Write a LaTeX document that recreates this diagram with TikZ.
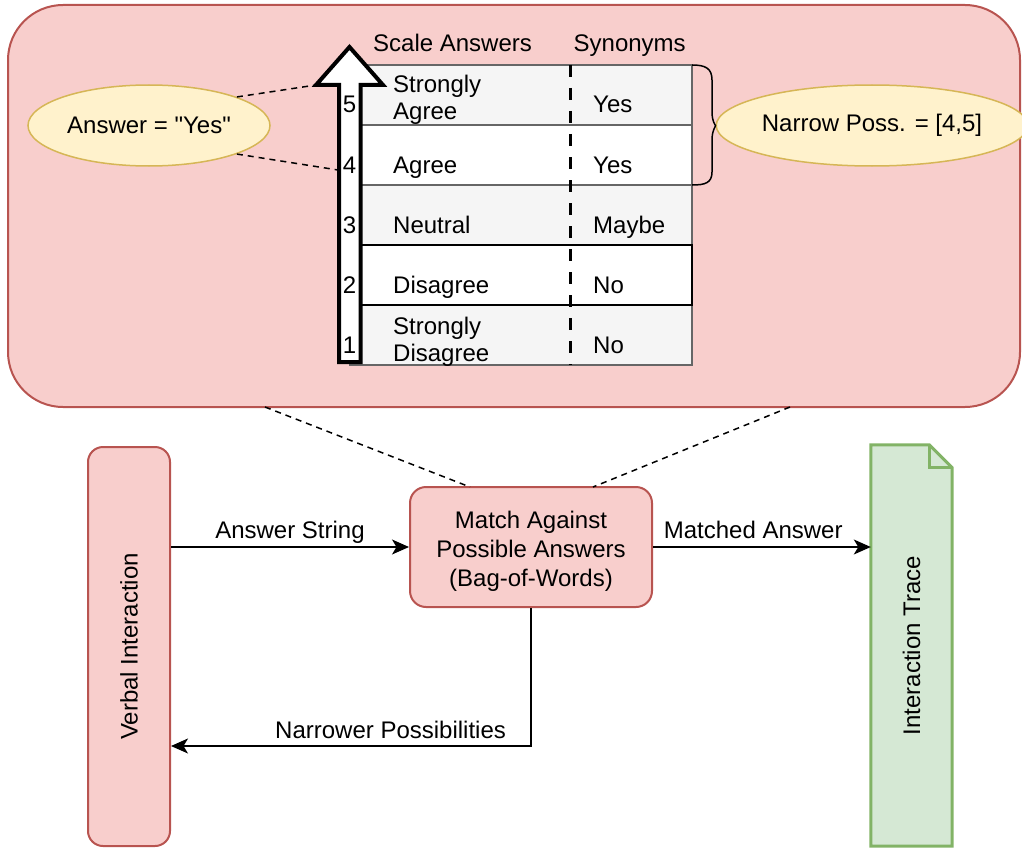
\documentclass[tikz,border=0pt]{standalone}
\usepackage{fontspec}
\usepackage{graphicx}
\setmainfont{Liberation Sans}
% plain family without TeX ligature mapping, so " stays a straight quote
\newfontfamily\diagfont{Liberation Sans}
\usetikzlibrary{arrows.meta,shapes.geometric}

\definecolor{redfill}{HTML}{F8CECC}
\definecolor{redline}{HTML}{B85450}
\definecolor{yelfill}{HTML}{FFF2CC}
\definecolor{yelline}{HTML}{D6B656}
\definecolor{grnfill}{HTML}{D5E8D4}
\definecolor{grnline}{HTML}{82B366}
\definecolor{rowgray}{HTML}{F5F5F5}
\definecolor{rowline}{HTML}{666666}

\begin{document}
\begin{tikzpicture}[x=1pt,y=-1pt,
  every node/.style={font=\diagfont\fontsize{24}{28.8}\selectfont, inner sep=0pt, text=black},
  panel/.style={draw=redline, fill=redfill, line width=2pt, rounded corners=55pt,
    minimum width=1012pt, minimum height=402pt},
  tag/.style={ellipse, draw=yelline, fill=yelfill, line width=1.5pt},
  cellgray/.style={rectangle, draw=rowline, fill=rowgray, line width=1.5pt,
    minimum width=342pt, minimum height=60pt},
  cellwhite/.style={rectangle, draw=rowline, fill=white, line width=1.5pt,
    minimum width=342pt, minimum height=60pt},
  celldark/.style={rectangle, draw=black, fill=white, line width=1.5pt,
    minimum width=342pt, minimum height=60pt},
  celltext/.style={anchor=base west},
  twoline/.style={anchor=west, align=left, font=\diagfont\fontsize{24}{27}\selectfont},
  numtext/.style={anchor=base},
  scalearrow/.style={draw=black, fill=white, line width=4pt, line join=miter},
  sepline/.style={draw=black, line width=3pt, dash pattern=on 12pt off 11pt},
  link/.style={draw=black, line width=1.5pt, dash pattern=on 6pt off 5pt},
  redbox/.style={rectangle, draw=redline, fill=redfill, line width=2pt},
  flow/.style={draw=black, line width=1.5pt, -{Stealth[length=17pt,width=15pt,inset=4.5pt]}},
  flowlabel/.style={anchor=base},
  note/.style={draw=grnline, fill=grnfill, line width=3pt, line join=miter}
]
\useasboundingbox (0,0) rectangle (1022,848);

% container panel
\node[panel] (panel) at (514,206) {};

% table rows
\node[cellgray]  (r1) at (521,95)  {};
\node[cellwhite] (r2) at (521,155) {};
\node[cellgray]  (r3) at (521,215) {};
\node[cellgray]  (r5) at (521,335) {};
\node[celldark]  (r4) at (521,275) {};

% column separator
\draw[sepline] (570,65) -- (570,365);

% headers
\node[celltext] (hscale) at (373,51.7) {Scale Answers};
\node[celltext] (hsyn) at (573.5,51.7) {Synonyms};

% scale answers
\node[twoline]  (a5) at (393,100) {Strongly\\Agree};
\node[celltext] (a4) at (393,173.3) {Agree};
\node[celltext] (a3) at (393,233.3) {Neutral};
\node[celltext] (a2) at (393,293.3) {Disagree};
\node[twoline]  (a1) at (393,341.8) {Strongly\\Disagree};

% synonyms
\node[celltext] (s5) at (593,112.7) {Yes};
\node[celltext] (s4) at (593,173.3) {Yes};
\node[celltext] (s3) at (593,233.3) {Maybe};
\node[celltext] (s2) at (593,293.3) {No};
\node[celltext] (s1) at (593,353.3) {No};

% upward scale arrow
\draw[scalearrow] (339,362) -- (339,85) -- (316,85) -- (349.5,47) -- (383,85)
  -- (360.5,85) -- (360.5,362) -- cycle;
\coordinate (headL) at (316,85);
\coordinate (shaft4) at (338,170);

% scale numbers
\node[numtext] (n5) at (349.5,112.7) {5};
\node[numtext] (n4) at (349.5,173.3) {4};
\node[numtext] (n3) at (349.5,233.3) {3};
\node[numtext] (n2) at (349.5,293.3) {2};
\node[numtext] (n1) at (349.5,353.3) {1};

% annotations
\node[tag, minimum width=242pt, minimum height=81pt] (yes) at (149,125.5) {Answer = "Yes"};
\node[tag, minimum width=282pt, minimum height=81pt] (narrow) at (872,125.5) {Narrow Poss. = [4,5]};

\draw[link] (yes.18) -- (headL);
\draw[link] (yes.-18) -- (shaft4);

% brace over rows 4 and 5
\draw[black, line width=1.5pt] (692,65) .. controls (705,65) and (712,68) .. (712,80)
  -- (712,112) .. controls (712,122) and (716,126) .. (narrow.west)
  .. controls (716,126) and (712,130) .. (712,140)
  -- (712,172) .. controls (712,183) and (705,185) .. (692,185);

% lower process
\node[redbox, rounded corners=15pt, minimum width=82pt, minimum height=399pt]
  (verbal) at (129,646.5) {\rotatebox{90}{Verbal Interaction}};
\node[redbox, rounded corners=16pt, minimum width=242pt, minimum height=120pt]
  (match) at (531,547) {};
\node[align=center, font=\diagfont\fontsize{24}{29}\selectfont]
  (matchtext) at ([yshift=-4pt]match.center) {Match Against\\Possible Answers\\(Bag-of-Words)};
\node[minimum width=81pt, minimum height=401pt] (trace) at (911.5,645.5) {};
\draw[note] (trace.north west) -- ([xshift=-23pt]trace.north east)
  -- ([yshift=-23pt]trace.north east) -- (trace.south east)
  -- (trace.south west) -- cycle;
\draw[note, fill=none] ([xshift=-23pt]trace.north east)
  -- ([xshift=-23pt,yshift=-23pt]trace.north east) -- ([yshift=-23pt]trace.north east);
\node (tracetext) at (trace.center) {\rotatebox{90}{Interaction Trace}};

% zoom lines from the panel to the matcher
\coordinate (pL) at (265,407);
\coordinate (pR) at (790,407);
\coordinate (mL) at (470,487);
\coordinate (mR) at (593,487);
\draw[link] (pL) -- (mL);
\draw[link] (pR) -- (mR);

% flows
\coordinate (fb) at (531,746);
\draw[flow] (verbal.east |- match.west) -- (match.west)
  node[flowlabel, midway, yshift=9pt] {Answer String};
\draw[flow] (match.east) -- (trace.west |- match.east)
  node[flowlabel, pos=0.46, yshift=9pt] {Matched Answer};
\draw[flow] (match.south) -- (fb) -- (verbal.east |- fb)
  node[flowlabel, pos=0.39, yshift=8pt] {Narrower Possibilities};
\end{tikzpicture}
\end{document}
